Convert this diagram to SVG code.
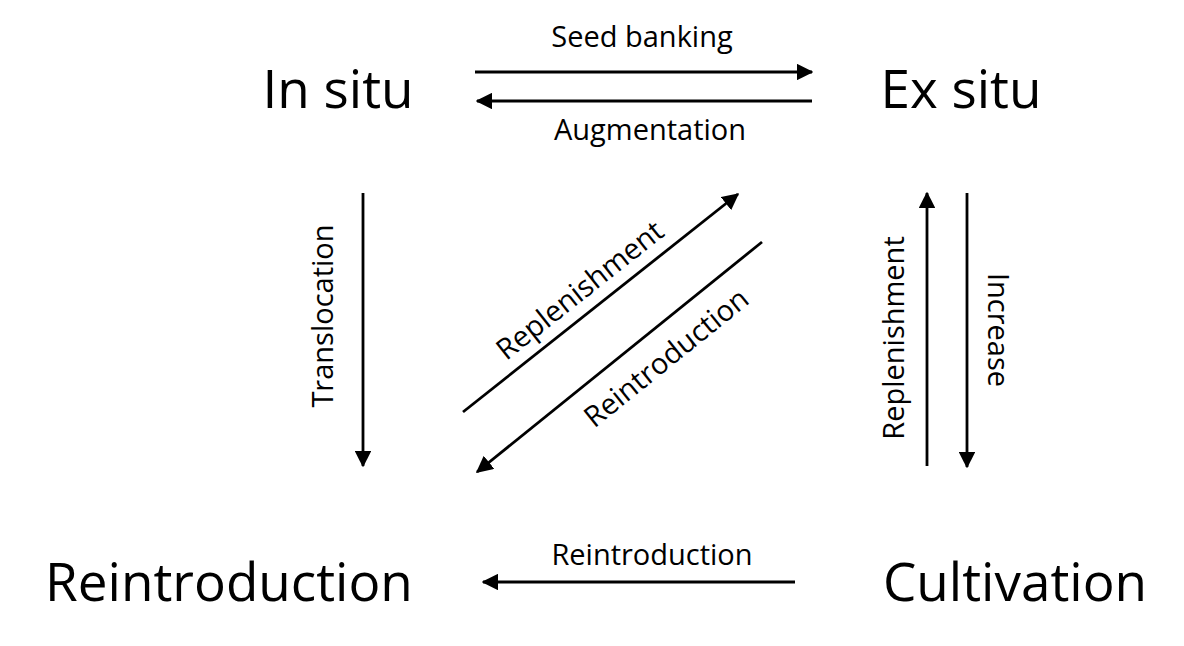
<svg xmlns="http://www.w3.org/2000/svg" width="1184" height="646" viewBox="0 0 1184 646">
<defs>
<marker id="ah" markerWidth="6" markerHeight="6" refX="5.5" refY="3" orient="auto" markerUnits="strokeWidth">
<path d="M0,0 L6,3 L0,6 Z" fill="#000"/>
</marker>
<style>
.node{font-family:"Open Sans","Liberation Sans",sans-serif;font-size:53px;fill:#000}
.lbl{font-family:"Open Sans","Liberation Sans",sans-serif;font-size:29px;fill:#000}
.c{stroke:#000;stroke-width:2.8;fill:none;marker-end:url(#ah)}
</style>
</defs>
<rect width="1184" height="646" fill="#fff"/>
<g id="insitu"><text class="node" x="338" y="108" text-anchor="middle">In situ</text></g>
<g id="exsitu"><text class="node" x="961" y="108" text-anchor="middle">Ex situ</text></g>
<g id="reintroduction"><text class="node" x="229" y="601" text-anchor="middle">Reintroduction</text></g>
<g id="cultivation"><text class="node" x="1015" y="601" text-anchor="middle">Cultivation</text></g>
<g id="connectors">
<line class="c" x1="475" y1="72" x2="812" y2="72"/>
<line class="c" x1="812" y1="101" x2="477" y2="101"/>
<line class="c" x1="363" y1="193" x2="363" y2="466"/>
<line class="c" x1="927" y1="466" x2="927" y2="193"/>
<line class="c" x1="967" y1="193" x2="967" y2="467"/>
<line class="c" x1="463" y1="412" x2="738" y2="194"/>
<line class="c" x1="762" y1="242" x2="477" y2="472"/>
<line class="c" x1="795" y1="582" x2="483" y2="582"/>
<text class="lbl" x="642" y="47" text-anchor="middle">Seed banking</text>
<text class="lbl" x="650" y="140" text-anchor="middle">Augmentation</text>
<text class="lbl" transform="translate(333,316) rotate(-90)" text-anchor="middle">Translocation</text>
<text class="lbl" transform="translate(904,338) rotate(-90)" text-anchor="middle">Replenishment</text>
<text class="lbl" transform="translate(988,330) rotate(90)" text-anchor="middle">Increase</text>
<text class="lbl" transform="translate(586,298) rotate(-38.4)" text-anchor="middle">Replenishment</text>
<text class="lbl" transform="translate(660,350) rotate(-38.9) translate(0,20)" text-anchor="middle">Reintroduction</text>
<text class="lbl" x="652" y="565" text-anchor="middle">Reintroduction</text>
</g>
</svg>
